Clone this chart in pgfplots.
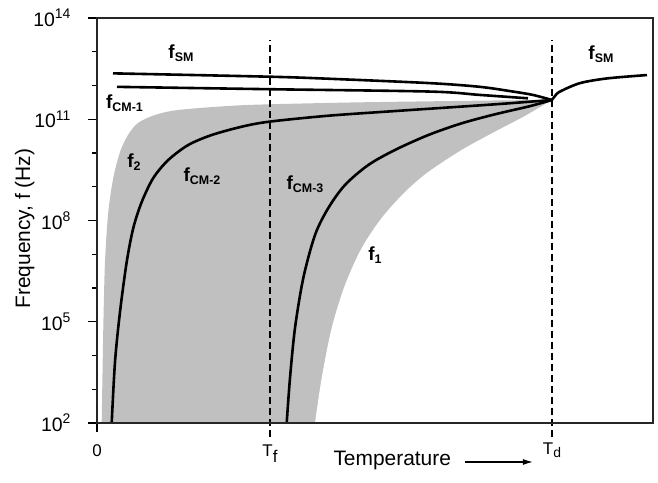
\documentclass[border=0pt]{standalone}
\usepackage{fontspec}
\setmainfont{Liberation Sans}
\usepackage{pgfplots}
\pgfplotsset{compat=1.18}
\usetikzlibrary{arrows.meta}
\newcommand{\lab}[1]{\textbf{\fontsize{19}{21}\selectfont f}\raisebox{-3bp}{\textbf{\fontsize{12.5}{14}\selectfont #1}}}
\newcommand{\tpow}[1]{10\raisebox{0.75ex}{\fontsize{14}{16}\selectfont #1}}
\definecolor{shade}{RGB}{192,192,192}
\begin{document}
\begin{tikzpicture}
\path[use as bounding box] (-97bp,-60bp) rectangle (561bp,423bp);
\begin{axis}[
  at={(0,0)}, anchor=south west, scale only axis,
  width=556bp, height=405bp,
  xmin=0, xmax=556, ymin=1e2, ymax=1e14, ymode=log,
  clip=false, axis on top,
  xtick pos=bottom, ytick pos=left, tick align=outside,
  xtick={0}, xticklabels={},
  ytick={1e2,1e5,1e8,1e11,1e14},
  yticklabels={\tpow{2},\tpow{5},\tpow{8},\tpow{11},\tpow{14}},
  minor ytick={1e3,1e4,1e6,1e7,1e9,1e10,1e12,1e13},
  major tick length=9bp, minor tick length=5bp,
  every tick/.append style={black, line width=1.2bp},
  axis line style={black!85, line width=1.2bp},
  yticklabel style={font=\fontsize{19.5}{22}\selectfont, xshift=-14bp},
  ylabel={Frequency, f (Hz)},
  ylabel style={font=\fontsize{21}{24}\selectfont, at={(axis description cs:-0.13,0.48)}, anchor=center},
  xlabel={Temperature},
  xlabel style={font=\fontsize{21}{24}\selectfont, at={(axis description cs:0.531,-0.106)}, anchor=base},
]
% shaded region: area under f2 (grey), then area under f1 cleared (white)
\addplot[fill=shade, draw=none, smooth] coordinates {
 (4.7,1e2) (6.3,6.53e4) (8,5.89e6) (11.3,1.79e8) (16.3,1.82e9) (23,1.07e10)
 (31,3.41e10) (41,7.74e10) (58,1.34e11) (81,1.88e11) (131,2.47e11) (172,2.77e11)
 (265,3.18e11) (398,3.60e11) (455,3.72e11)} -- (axis cs:455,100) -- cycle;
\addplot[fill=white, draw=none, smooth] coordinates {
 (218,1e2) (224.7,2.15e3) (234.7,6.53e4) (248,1.23e6) (264.7,1.53e7) (284.7,1.19e8)
 (308,6.98e8) (331.3,2.74e9) (364.7,1.23e10) (398,4.28e10) (428,1.25e11) (455,3.72e11)} -- (axis cs:455,100) -- cycle;
% dashed temperature markers
\addplot[black, line width=1.1bp, dash pattern=on 7bp off 4bp] coordinates {(173,38) (173,2.2e13)};
\addplot[black, line width=1.1bp, dash pattern=on 7bp off 4bp] coordinates {(455,38) (455,2.2e13)};
% f_SM (left)
\addplot[black, line width=2.6bp, smooth] coordinates {
 (16,2.29e12) (173,1.82e12) (233,1.58e12) (333,1.175e12) (383,9.12e11) (416,6.61e11) (436,5.25e11) (455,3.72e11)};
% f_CM-1
\addplot[black, line width=2.6bp, smooth] coordinates {
 (20,9.12e11) (173,7.76e11) (333,6.61e11) (383,5.25e11) (431,4.17e11)};
% f_CM-2
\addplot[black, line width=2.6bp, smooth] coordinates {
 (14.7,1e2) (18,6.41e3) (23,1.95e5) (29.7,5.89e6) (36.3,6.0e7) (44.7,3.53e8) (56.3,1.82e9)
 (71.3,6.21e9) (91.3,1.73e10) (114.7,3.41e10) (144.7,6.01e10) (172,8.45e10)
 (231,1.27e11) (298,1.75e11) (398,2.77e11) (455,3.72e11)};
% f_CM-3
\addplot[black, line width=2.6bp, smooth] coordinates {
 (189.7,1e2) (193,2.15e3) (198,6.53e4) (206.3,1.98e6) (218,3.72e7) (231.3,2.34e8) (248,1.13e9)
 (271.3,4.41e9) (298,1.23e10) (331.3,3.41e10) (364.7,7.59e10) (398,1.40e11) (433,2.45e11) (455,3.72e11)};
% f_SM (right)
\addplot[black, line width=2.6bp, smooth] coordinates {
 (455,3.72e11) (458,4.90e11) (463,6.61e11) (483,1.175e12) (510,1.62e12) (550,2.04e12)};
% tick labels on x axis
\node[anchor=north, font=\fontsize{17}{19}\selectfont] at (axis cs:0,29) {0};
\node[anchor=north, font=\fontsize{17}{19}\selectfont] at (axis cs:173,29) {T\raisebox{-6bp}{f}};
\node[anchor=north, font=\fontsize{17}{19}\selectfont] at (axis cs:455,33) {T\raisebox{-3bp}{\fontsize{14}{16}\selectfont d}};
% arrow after the axis title
\draw[black, line width=1.2bp, -{Latex[length=10bp,width=6bp]}] (axis description cs:0.662,-0.0963) -- (axis description cs:0.784,-0.0963);
% curve labels
\node at (axis cs:84,9.1e12) {\lab{SM}};
\node at (axis cs:504,8.5e12) {\lab{SM}};
\node at (axis cs:27.5,3.0e11) {\lab{CM-1}};
\node at (axis cs:37,5.4e9) {\lab{2}};
\node at (axis cs:105,2.1e9) {\lab{CM-2}};
\node at (axis cs:208,1.2e9) {\lab{CM-3}};
\node at (axis cs:278,9.5e6) {\lab{1}};
\end{axis}
\end{tikzpicture}
\end{document}
